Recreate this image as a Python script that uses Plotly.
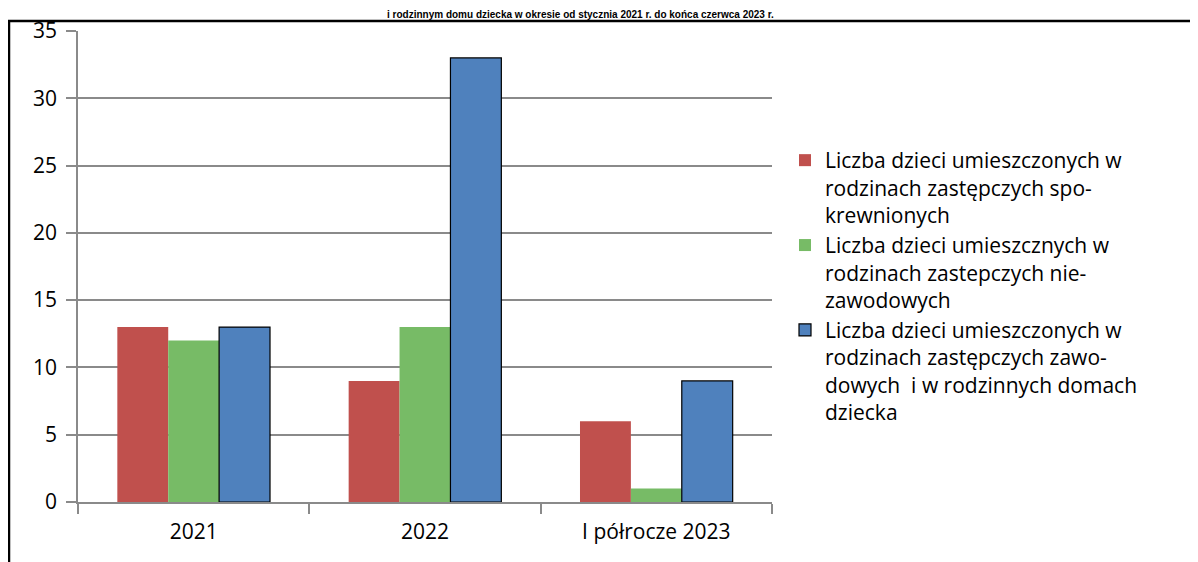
import plotly.graph_objects as go

categories = ["2021", "2022", "I półrocze 2023"]
series_names = [
    "Liczba dzieci umieszczonych w<br>rodzinach zastępczych spo-<br>krewnionych",
    "Liczba dzieci umieszcznych w<br>rodzinach zastepczych nie-<br>zawodowych",
    "Liczba dzieci umieszczonych w<br>rodzinach zastępczych zawo-<br>dowych  i w rodzinnych domach<br>dziecka",
]
spokrewnione = [13, 9, 6]
niezawodowe = [12, 13, 1]
zawodowe = [13, 33, 9]
title_text = "i rodzinnym domu dziecka w okresie od stycznia 2021 r. do końca czerwca 2023 r."

colors = ["#C0504D", "#77BB66", "#4F81BD"]
# the page puts the figure 8px in from the top-left corner
W, H = 1190, 554
L, R, T, B = 70, 764, 23, 494


def px(x):
    return (x - L) / (R - L)


def py(y):
    return (B - y) / (B - T)


fig = go.Figure()
for i, (name, vals, col) in enumerate(zip(series_names, [spokrewnione, niezawodowe, zawodowe], colors)):
    fig.add_trace(
        go.Bar(
            x=categories,
            y=vals,
            name=name,
            legendgroup=f"g{i}",
            marker=dict(
                color=col,
                line=dict(width=1.2 if i == 2 else 0, color="black"),
            ),
        )
    )

font = "Open Sans, sans-serif"
fig.update_layout(
    width=W,
    height=H,
    barmode="group",
    bargap=0.34,
    bargroupgap=0,
    plot_bgcolor="white",
    paper_bgcolor="white",
    margin=dict(l=L, r=W - R, t=T, b=H - B, autoexpand=False),
    font=dict(family=font, size=21, color="black"),
    legend=dict(
        x=px(777),
        y=py(132),
        xanchor="left",
        yanchor="top",
        valign="top",
        font=dict(size=21),
        tracegroupgap=0,
        itemwidth=30,
        bgcolor="rgba(0,0,0,0)",
    ),
    showlegend=True,
)
fig.update_yaxes(
    range=[0, 35],
    dtick=5,
    showgrid=True,
    gridcolor="#8A8A8A",
    gridwidth=1.5,
    showline=True,
    linecolor="#8A8A8A",
    linewidth=1.5,
    ticks="outside",
    ticklen=10,
    tickcolor="#8A8A8A",
    tickwidth=1.5,
    ticklabelstandoff=5,
    zeroline=False,
)
fig.update_xaxes(
    showline=True,
    linecolor="#8A8A8A",
    linewidth=1.5,
    ticks="outside",
    tickson="boundaries",
    ticklen=10,
    tickcolor="#8A8A8A",
    tickwidth=1.5,
    ticklabelstandoff=10,
    showgrid=False,
)

# frame lines of the surrounding document table
fig.add_shape(type="line", xref="paper", yref="paper",
              x0=px(0), x1=px(W + 5), y0=py(13), y1=py(13),
              line=dict(color="black", width=2.5))
fig.add_shape(type="line", xref="paper", yref="paper",
              x0=px(1), x1=px(1), y0=py(13), y1=py(H + 5),
              line=dict(color="black", width=2.5))

fig.add_annotation(
    text="<b>" + title_text + "</b>",
    xref="paper", yref="paper",
    x=px(572), y=py(0),
    xanchor="center", yanchor="top",
    showarrow=False,
    borderpad=0,
    font=dict(family="Liberation Sans, Arial, sans-serif", size=10, color="black"),
)

fig.write_html("out.html")
